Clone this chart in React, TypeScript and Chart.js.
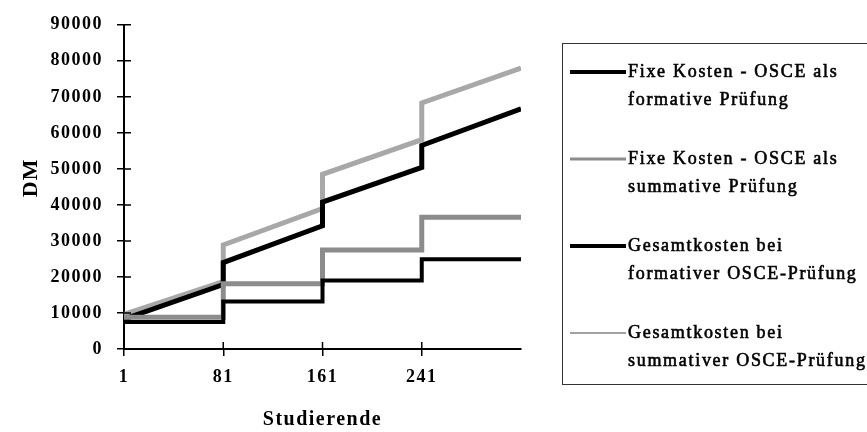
import React, { useEffect, useRef } from "react";
import { Chart, registerables } from "chart.js";

Chart.register(...registerables);

// Cohort boundaries (number of students) and the axis tick values
const cohortBounds = [1, 81, 161, 241, 321];
const xTickValues = [1, 81, 161, 241];
const yMax = 90000;
const yStep = 10000;

// Fixed costs per cohort (constant within each cohort)
const fixFormativ = [7500, 13200, 19000, 24900];
const fixSummativ = [8800, 18100, 27500, 36600];

// Total costs: value at the start and at the end of each cohort
const gesamtFormativStart = [8300, 24000, 40800, 56500];
const gesamtFormativEnd = [17900, 34200, 50400, 66700];
const gesamtSummativStart = [9600, 28900, 48500, 68300];
const gesamtSummativEnd = [18700, 39000, 58100, 78000];

const seriesLabels = [
  ["Fixe Kosten - OSCE als", "formative Prüfung"],
  ["Fixe Kosten - OSCE als", "summative Prüfung"],
  ["Gesamtkosten bei", "formativer OSCE-Prüfung"],
  ["Gesamtkosten bei", "summativer OSCE-Prüfung"],
];

const yAxisTitle = "DM";
const xAxisTitle = "Studierende";

const SERIF = '"Liberation Serif", "Times New Roman", serif';

function segmentPoints(starts: number[], ends: number[]) {
  return starts.flatMap((s, i) => [
    { x: cohortBounds[i], y: s },
    { x: cohortBounds[i + 1], y: ends[i] },
  ]);
}

const letterSpacingPlugin = {
  id: "letterSpacing",
  beforeDraw(chart: any) {
    chart.ctx.letterSpacing = "1.5px";
  },
};

// Tick marks that cross the axis lines (inner half)
const innerTicksPlugin = {
  id: "innerTicks",
  afterDraw(chart: any) {
    const { ctx, chartArea, scales } = chart;
    const len = 7;
    ctx.save();
    ctx.strokeStyle = "#000";
    ctx.lineWidth = 1.5;
    ctx.beginPath();
    scales.y.ticks.forEach((t: any) => {
      const py = scales.y.getPixelForValue(t.value);
      ctx.moveTo(chartArea.left, py);
      ctx.lineTo(chartArea.left + len, py);
    });
    scales.x.ticks.forEach((t: any) => {
      const px = scales.x.getPixelForValue(t.value);
      ctx.moveTo(px, chartArea.bottom);
      ctx.lineTo(px, chartArea.bottom - len);
    });
    ctx.stroke();
    ctx.restore();
  },
};

// Rotated y-axis title, set a little above the axis centre
const yTitlePlugin = {
  id: "yTitle",
  afterDraw(chart: any) {
    const { ctx, chartArea } = chart;
    ctx.save();
    ctx.translate(31, chartArea.top + 153);
    ctx.rotate(-Math.PI / 2);
    ctx.font = `bold 22px ${SERIF}`;
    ctx.letterSpacing = "1px";
    ctx.fillStyle = "#000";
    ctx.textAlign = "center";
    ctx.textBaseline = "middle";
    ctx.fillText(yAxisTitle, 0, 0);
    ctx.restore();
  },
};

const boxLegendPlugin = {
  id: "boxLegend",
  afterDraw(chart: any) {
    const { ctx, chartArea } = chart;
    const boxLeft = chartArea.right + 41;
    const boxTop = 43;
    const boxBottom = 384;
    const firstY = 72;
    const entryGap = 87;
    const lineGap = 28;
    const sampleX0 = boxLeft + 8;
    const sampleX1 = boxLeft + 64;
    const textX = boxLeft + 66;

    ctx.save();
    ctx.strokeStyle = "#333";
    ctx.lineWidth = 1;
    ctx.strokeRect(boxLeft + 0.5, boxTop + 0.5, chart.width - boxLeft + 10, boxBottom - boxTop);

    ctx.font = `18px ${SERIF}`;
    ctx.fillStyle = "#000";
    ctx.textBaseline = "middle";
    ctx.textAlign = "left";
    ctx.letterSpacing = "1.7px";
    chart.data.datasets.forEach((ds: any, i: number) => {
      const y = firstY + i * entryGap;
      ctx.beginPath();
      ctx.strokeStyle = ds.legendColor;
      ctx.lineWidth = ds.legendWidth;
      ctx.moveTo(sampleX0, y);
      ctx.lineTo(sampleX1, y);
      ctx.stroke();
      ctx.strokeStyle = "#000";
      ctx.lineWidth = 0.6;
      ds.labelLines.forEach((line: string, j: number) => {
        ctx.fillText(line, textX, y + j * lineGap);
        ctx.strokeText(line, textX, y + j * lineGap);
      });
    });
    ctx.restore();
  },
};

export default function App() {
  const canvasRef = useRef<HTMLCanvasElement | null>(null);

  useEffect(() => {
    if (!canvasRef.current) return;
    const tickFont = { family: SERIF, size: 18, weight: "bold" as const };

    const chart = new Chart(canvasRef.current, {
      type: "line",
      data: {
        datasets: [
          {
            label: seriesLabels[0].join(" "),
            labelLines: seriesLabels[0],
            data: segmentPoints(fixFormativ, fixFormativ),
            borderColor: "#000",
            borderWidth: 4,
            legendColor: "#000",
            legendWidth: 4,
          },
          {
            label: seriesLabels[1].join(" "),
            labelLines: seriesLabels[1],
            data: segmentPoints(fixSummativ, fixSummativ),
            borderColor: "#8c8c8c",
            borderWidth: 5,
            legendColor: "#8c8c8c",
            legendWidth: 3,
          },
          {
            label: seriesLabels[2].join(" "),
            labelLines: seriesLabels[2],
            data: segmentPoints(gesamtFormativStart, gesamtFormativEnd),
            borderColor: "#000",
            borderWidth: 5,
            legendColor: "#000",
            legendWidth: 4,
          },
          {
            label: seriesLabels[3].join(" "),
            labelLines: seriesLabels[3],
            data: segmentPoints(gesamtSummativStart, gesamtSummativEnd),
            borderColor: "#a8a8a8",
            borderWidth: 5,
            legendColor: "#a0a0a0",
            legendWidth: 2,
          },
        ] as any,
      },
      options: {
        animation: false,
        responsive: true,
        maintainAspectRatio: false,
        layout: { padding: { top: 22, right: 346, bottom: 0, left: 0 } },
        plugins: {
          legend: { display: false },
          tooltip: { enabled: false },
        },
        elements: {
          point: { radius: 0 },
          line: { tension: 0, borderJoinStyle: "miter", borderCapStyle: "butt" },
        },
        scales: {
          x: {
            type: "linear",
            min: cohortBounds[0],
            max: cohortBounds[cohortBounds.length - 1],
            afterBuildTicks: (s: any) => {
              s.ticks = xTickValues.map((v) => ({ value: v }));
            },
            afterFit: (s: any) => {
              s.height = 83;
            },
            grid: {
              display: true,
              drawOnChartArea: false,
              drawTicks: true,
              tickLength: 7,
              color: "#000",
              lineWidth: 1.5,
            },
            border: { display: true, color: "#000", width: 2 },
            ticks: {
              color: "#000",
              font: tickFont,
              padding: 11,
              maxRotation: 0,
              autoSkip: false,
              callback: (v: any) => String(v),
            },
            title: {
              display: true,
              text: xAxisTitle,
              color: "#000",
              font: { family: SERIF, size: 20, weight: "bold" },
              padding: { top: 0, bottom: 0 },
            },
          },
          y: {
            min: 0,
            max: yMax,
            afterFit: (s: any) => {
              s.width = 124;
            },
            grid: {
              display: true,
              drawOnChartArea: false,
              drawTicks: true,
              tickLength: 7,
              color: "#000",
              lineWidth: 1.5,
            },
            border: { display: true, color: "#000", width: 2 },
            ticks: {
              stepSize: yStep,
              color: "#000",
              font: tickFont,
              padding: 14,
              callback: (v: any) => String(v),
            },
            title: { display: false },
          },
        },
      } as any,
      plugins: [letterSpacingPlugin, innerTicksPlugin, yTitlePlugin, boxLegendPlugin],
    });

    return () => chart.destroy();
  }, []);

  return (
    <div style={{ position: "absolute", left: 0, top: 0, width: 867, height: 432, background: "#fff" }}>
      <canvas ref={canvasRef} />
    </div>
  );
}
